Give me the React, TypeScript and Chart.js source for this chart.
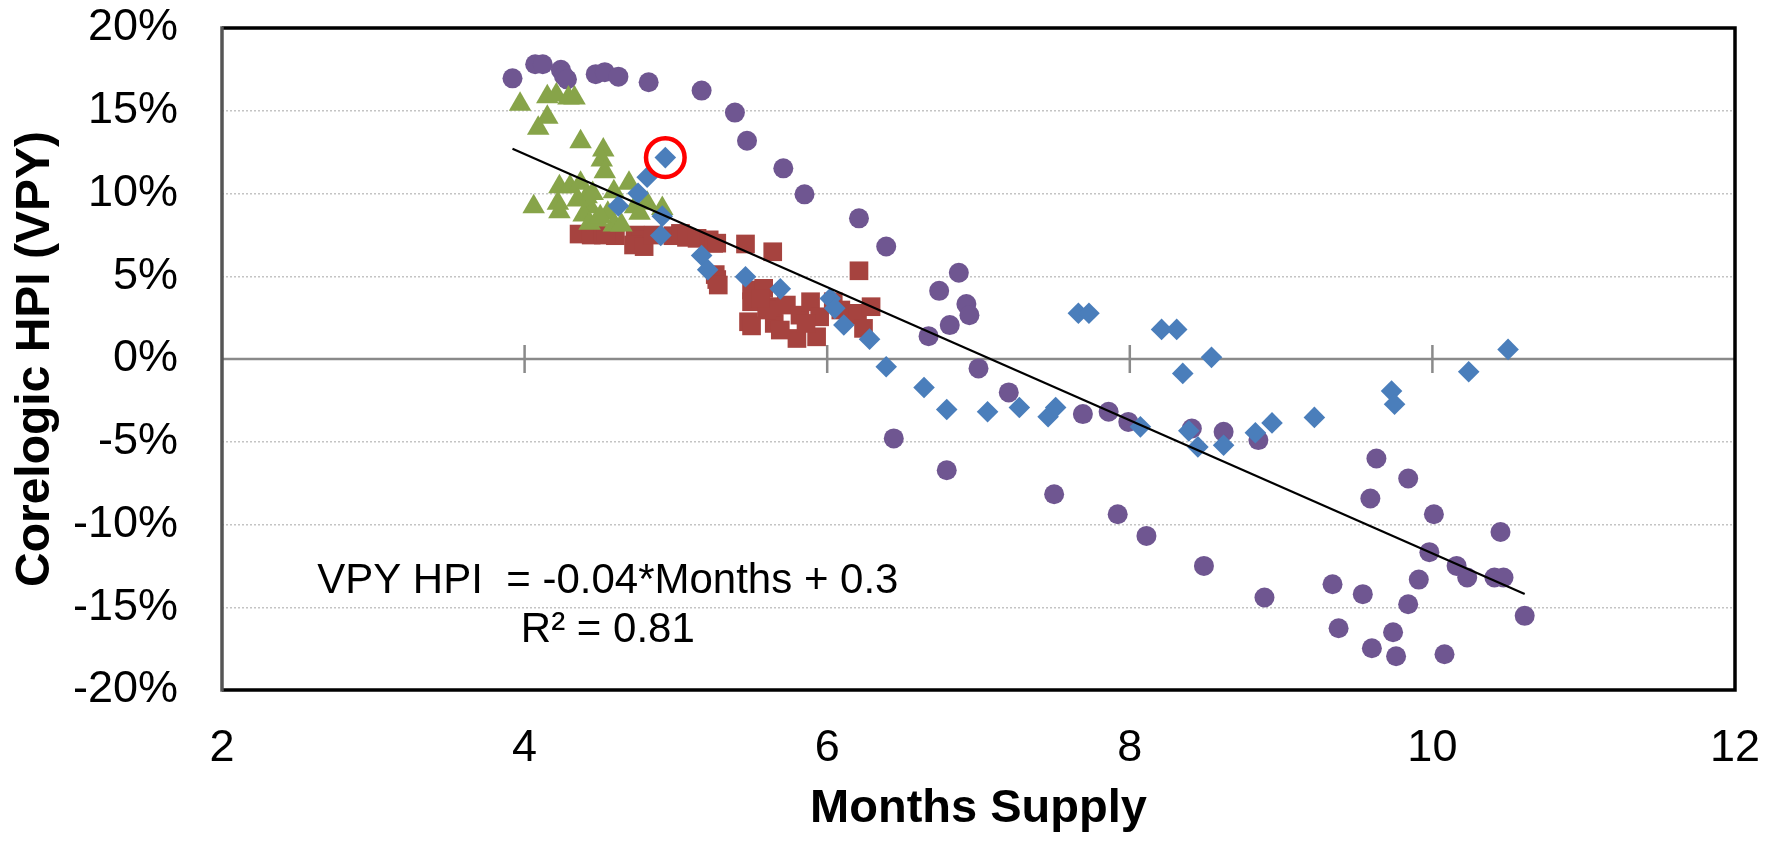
import React, { useEffect, useRef } from "react";
import { Chart, registerables } from "chart.js";

Chart.register(...registerables);

// ---- Data (x = months supply, y = Corelogic HPI VPY in %) ----
const purpleX = [3.92, 4.07, 4.12, 4.24, 4.26, 4.28, 4.47, 4.53, 4.62, 4.82, 5.17, 5.39, 5.47, 5.71, 5.85, 6.21, 6.39, 6.87, 6.74, 6.92, 6.94, 6.81, 6.67, 7.0, 6.44, 7.2, 6.79, 7.69, 7.86, 7.99, 7.5, 7.92, 8.11, 8.41, 8.62, 8.85, 8.49, 8.89, 9.63, 9.84, 9.59, 10.01, 10.45, 9.98, 10.16, 10.23, 10.41, 10.47, 9.91, 9.34, 9.54, 9.84, 10.61, 9.38, 9.74, 9.6, 9.76, 10.08];
const purpleY = [16.96, 17.81, 17.81, 17.47, 17.1, 16.9, 17.21, 17.33, 17.06, 16.72, 16.22, 14.89, 13.19, 11.52, 9.95, 8.5, 6.8, 5.21, 4.12, 3.32, 2.65, 2.05, 1.38, -0.57, -4.8, -2.02, -6.72, -3.33, -3.19, -3.8, -8.17, -9.38, -10.69, -4.2, -4.4, -4.9, -12.5, -14.41, -6.01, -7.22, -8.43, -9.38, -10.45, -11.67, -12.5, -13.2, -13.2, -13.2, -13.33, -13.61, -14.21, -14.82, -15.52, -16.27, -16.51, -17.48, -17.96, -17.84];

const blueX = [4.62, 4.75, 4.81, 4.93, 4.91, 4.9, 5.17, 5.21, 5.46, 5.69, 6.02, 6.05, 6.11, 6.28, 6.39, 6.64, 6.79, 7.06, 7.27, 7.46, 7.51, 7.66, 7.73, 8.07, 8.21, 8.31, 8.35, 8.54, 8.39, 8.45, 8.62, 8.83, 8.94, 9.22, 9.73, 9.75, 10.24, 10.5];
const blueY = [9.25, 10.01, 10.98, 12.17, 8.63, 7.46, 6.25, 5.4, 4.97, 4.24, 3.66, 3.06, 2.05, 1.2, -0.47, -1.72, -3.05, -3.19, -2.93, -3.49, -2.93, 2.76, 2.76, -4.1, 1.79, 1.79, -0.87, 0.1, -4.34, -5.31, -5.21, -4.46, -3.86, -3.53, -1.94, -2.73, -0.77, 0.58];

const redX = [4.36, 4.44, 4.52, 4.6, 4.54, 4.73, 4.77, 4.72, 4.79, 4.85, 4.98, 5.03, 5.07, 5.14, 5.22, 5.25, 5.27, 5.46, 5.64, 6.21, 5.26, 5.27, 5.28, 5.5, 5.58, 5.5, 5.48, 5.65, 5.64, 5.73, 5.8, 5.82, 5.89, 5.93, 5.95, 6.09, 6.15, 6.2, 6.24, 6.29, 5.6, 5.56, 5.69, 5.86, 6.04, 5.5];
const redY = [7.55, 7.49, 7.49, 7.45, 7.59, 7.49, 7.2, 6.89, 6.79, 7.49, 7.45, 7.59, 7.35, 7.29, 7.2, 6.99, 7.0, 6.95, 6.48, 5.33, 5.1, 4.8, 4.47, 4.17, 4.27, 3.46, 2.25, 2.15, 3.16, 3.26, 1.24, 2.65, 3.46, 1.34, 2.55, 2.96, 2.65, 2.76, 1.85, 3.16, 2.96, 3.66, 1.75, 2.15, 3.46, 2.0];

const greenX = [3.97, 4.15, 4.21, 4.29, 4.33, 4.15, 4.09, 4.37, 4.52, 4.51, 4.53, 4.23, 4.3, 4.37, 4.59, 4.69, 4.06, 4.22, 4.23, 4.41, 4.43, 4.39, 4.43, 4.48, 4.55, 4.59, 4.64, 4.73, 4.76, 4.81, 4.91, 4.35, 4.45, 4.5];
const greenY = [15.39, 15.85, 15.95, 15.77, 15.77, 14.6, 13.94, 13.13, 12.63, 12.03, 11.32, 10.41, 10.41, 10.62, 10.11, 10.62, 9.2, 9.41, 8.9, 9.81, 9.2, 8.7, 8.2, 8.4, 8.8, 8.1, 8.1, 9.2, 8.8, 9.41, 9.1, 9.6, 10.0, 8.6];

const trendX = [3.92, 10.61];
const trendY = [12.7, -14.2];

const highlightX = [4.93];
const highlightY = [12.17];

const xTickValues = [4, 6, 8, 10];
const equationLines = ["VPY HPI  = -0.04*Months + 0.3", "R\u00B2 = 0.81"];
const equationAnchor = { x: 4.55, y1: -14.15, y2: -17.12 };

const zip = (xs: number[], ys: number[]) => xs.map((x, i) => ({ x, y: ys[i] }));

const FONT = "'Liberation Sans', Arial, Helvetica, sans-serif";

const framePlugin = {
  id: "framePlugin",
  beforeDatasetsDraw(chart: any) {
    const { ctx, chartArea, scales } = chart;
    const y0 = scales.y.getPixelForValue(0);
    ctx.save();
    ctx.strokeStyle = "#8a8a8a";
    ctx.lineWidth = 2.5;
    ctx.beginPath();
    ctx.moveTo(chartArea.left, y0);
    ctx.lineTo(chartArea.right, y0);
    xTickValues.forEach((v) => {
      const px = scales.x.getPixelForValue(v);
      ctx.moveTo(px, y0 - 14);
      ctx.lineTo(px, y0 + 14);
    });
    ctx.stroke();
    ctx.restore();
  },
  afterDraw(chart: any) {
    const { ctx, chartArea, scales } = chart;
    ctx.save();
    ctx.lineWidth = 3.5;
    ctx.strokeStyle = "#000000";
    ctx.beginPath();
    ctx.moveTo(chartArea.left, chartArea.top);
    ctx.lineTo(chartArea.right, chartArea.top);
    ctx.lineTo(chartArea.right, chartArea.bottom);
    ctx.lineTo(chartArea.left, chartArea.bottom);
    ctx.stroke();
    ctx.strokeStyle = "#555555";
    ctx.beginPath();
    ctx.moveTo(chartArea.left, chartArea.top - 1.75);
    ctx.lineTo(chartArea.left, chartArea.bottom + 1.75);
    ctx.stroke();
    // trendline equation
    ctx.fillStyle = "#000000";
    ctx.font = `42px ${FONT}`;
    ctx.textAlign = "center";
    ctx.textBaseline = "alphabetic";
    const ax = scales.x.getPixelForValue(equationAnchor.x);
    ctx.fillText(equationLines[0], ax, scales.y.getPixelForValue(equationAnchor.y1));
    ctx.fillText(equationLines[1], ax, scales.y.getPixelForValue(equationAnchor.y2));
    ctx.restore();
  },
};

export default function App() {
  const canvasRef = useRef<HTMLCanvasElement | null>(null);

  useEffect(() => {
    const canvas = canvasRef.current;
    if (!canvas) return;
    Chart.defaults.font.family = FONT;
    const chart = new Chart(canvas, {
      type: "scatter",
      data: {
        datasets: [
          {
            label: "highlight",
            data: zip(highlightX, highlightY),
            pointStyle: "circle",
            pointRadius: 19.3,
            pointBorderWidth: 4.5,
            pointBorderColor: "#FF0000",
            pointBackgroundColor: "rgba(0,0,0,0)",
            order: 0,
          },
          {
            label: "trend",
            type: "line",
            data: zip(trendX, trendY),
            showLine: true,
            borderColor: "#000000",
            borderWidth: 2.2,
            pointRadius: 0,
            fill: false,
            order: 1,
          },
          {
            label: "blue",
            data: zip(blueX, blueY),
            pointStyle: "rectRot",
            pointRadius: 10.8,
            pointBorderWidth: 0,
            pointBackgroundColor: "#4A7EBB",
            pointBorderColor: "#4A7EBB",
            order: 2,
          },
          {
            label: "green",
            data: zip(greenX, greenY),
            pointStyle: "triangle",
            pointRadius: 13,
            pointBorderWidth: 0,
            pointBackgroundColor: "#87A449",
            pointBorderColor: "#87A449",
            order: 3,
          },
          {
            label: "red",
            data: zip(redX, redY),
            pointStyle: "rect",
            pointRadius: 13.2,
            pointBorderWidth: 0,
            pointBackgroundColor: "#A6433F",
            pointBorderColor: "#A6433F",
            order: 4,
          },
          {
            label: "purple",
            data: zip(purpleX, purpleY),
            pointStyle: "circle",
            pointRadius: 10,
            pointBorderWidth: 0,
            pointBackgroundColor: "#6F5691",
            pointBorderColor: "#6F5691",
            order: 5,
          },
        ] as any,
      },
      options: {
        animation: false,
        responsive: false,
        devicePixelRatio: 1,
        events: [],
        layout: { padding: { left: 0, top: 28, right: 32, bottom: 0 } },
        plugins: {
          legend: { display: false },
          tooltip: { enabled: false },
          title: { display: false },
        },
        scales: {
          x: {
            type: "linear",
            min: 2,
            max: 12,
            afterFit: (scale: any) => {
              scale.height = 154;
            },
            ticks: {
              stepSize: 2,
              color: "#000000",
              padding: 0,
              font: { size: 45, family: FONT },
            },
            grid: {
              display: true,
              drawOnChartArea: false,
              drawTicks: true,
              tickLength: 32,
              color: "rgba(0,0,0,0)",
              tickColor: "rgba(0,0,0,0)",
            },
            border: { display: false },
            title: {
              display: true,
              text: "Months Supply",
              color: "#000000",
              font: { size: 47, weight: "bold", family: FONT },
              padding: { top: 0, bottom: 7 },
            },
          },
          y: {
            type: "linear",
            min: -20,
            max: 20,
            afterFit: (scale: any) => {
              scale.width = 222;
            },
            ticks: {
              stepSize: 5,
              color: "#000000",
              padding: 0,
              font: { size: 45, family: FONT },
              callback: (v: any) => `${v}%`,
            },
            grid: {
              drawTicks: true,
              tickLength: 44,
              tickColor: "rgba(0,0,0,0)",
              lineWidth: 1.5,
              color: (c: any) =>
                c.tick && (c.tick.value === 0 || Math.abs(c.tick.value) === 20)
                  ? "rgba(0,0,0,0)"
                  : "#c4c4c4",
            },
            border: { display: false, dash: [2, 2] },
            title: {
              display: true,
              text: "Corelogic HPI (VPY)",
              color: "#000000",
              font: { size: 48, weight: "bold", family: FONT },
              padding: { top: 7, bottom: 0 },
            },
          },
        },
      } as any,
      plugins: [framePlugin],
    });
    return () => chart.destroy();
  }, []);

  return (
    <div style={{ position: "fixed", left: 0, top: 0, width: 1767, height: 844, background: "#ffffff" }}>
      <canvas ref={canvasRef} width={1767} height={844} style={{ display: "block", width: 1767, height: 844 }} />
    </div>
  );
}
